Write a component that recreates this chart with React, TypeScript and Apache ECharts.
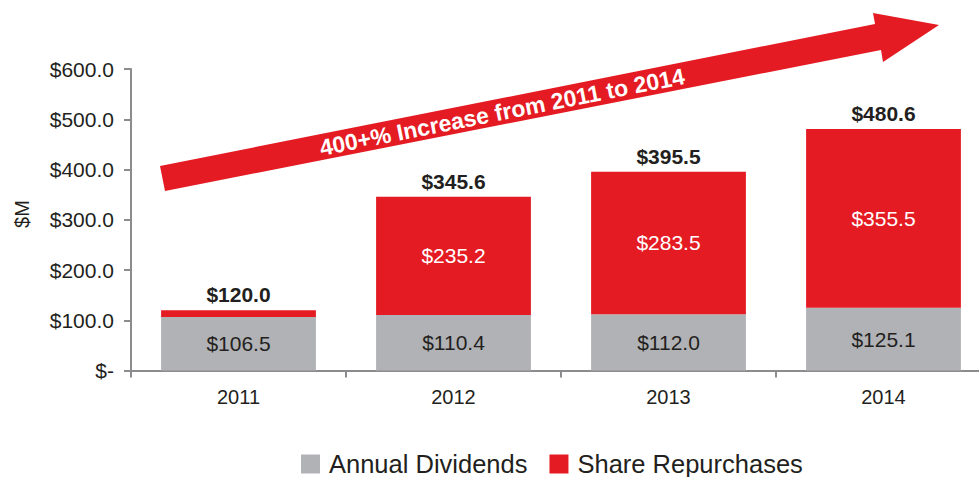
import React, { useEffect, useRef } from "react";
import * as echarts from "echarts";

const categories = ["2011", "2012", "2013", "2014"];
const dividends = [106.5, 110.4, 112.0, 125.1];
const repurchases = [13.5, 235.2, 283.5, 355.5];
const totals = [120.0, 345.6, 395.5, 480.6];
const hiddenRepurchaseLabels = [true, false, false, false];
const yTicks = [0, 100, 200, 300, 400, 500, 600];
const yTickLabels = ["$-", "$100.0", "$200.0", "$300.0", "$400.0", "$500.0", "$600.0"];
const arrowText = "400+% Increase from 2011 to 2014";

const FONT = "'Liberation Sans', Arial, Helvetica, sans-serif";
const GRAY = "#b1b2b5";
const RED = "#e41b23";
const TEXT = "#231f20";
const AXIS = "#8c8c8e";

export default function App() {
  const ref = useRef<HTMLDivElement>(null);
  useEffect(() => {
    if (!ref.current) return;
    const chart = echarts.init(ref.current, null, { renderer: "svg" });
    const fmt = (v: number) => "$" + v.toFixed(1);
    chart.setOption({
      animation: false,
      textStyle: { fontFamily: FONT },
      grid: { left: 131, right: 9, top: 69, bottom: 106.5, containLabel: false },
      legend: {
        data: ["Annual Dividends", "Share Repurchases"],
        left: 296,
        top: 446,
        icon: "rect",
        itemWidth: 19,
        itemHeight: 19,
        itemGap: 22,
        textStyle: { fontSize: 25.5, color: TEXT, fontFamily: FONT, padding: [0, 0, 0, 4] },
        selectedMode: false,
      },
      xAxis: {
        type: "category",
        data: categories,
        axisLine: { lineStyle: { color: AXIS, width: 2 } },
        axisTick: { show: true, length: 7, lineStyle: { color: AXIS, width: 2 } },
        axisLabel: { fontSize: 20, color: TEXT, margin: 16, fontFamily: FONT },
      },
      yAxis: {
        type: "value",
        min: 0,
        max: 600,
        interval: 100,
        splitLine: { show: false },
        axisLine: { show: true, lineStyle: { color: AXIS, width: 2 } },
        axisTick: { show: true, length: 7, lineStyle: { color: AXIS, width: 2 } },
        axisLabel: {
          fontSize: 21,
          color: TEXT,
          margin: 17,
          fontFamily: FONT,
          formatter: (v: number) => yTickLabels[yTicks.indexOf(v)] ?? "",
        },
      },
      graphic: [
        {
          type: "polygon",
          shape: {
            points: [
              [160, 166],
              [875, 24],
              [873, 13],
              [939, 25],
              [883, 62],
              [881, 50],
              [165, 191],
            ],
          },
          style: { fill: RED },
          z: 10,
        },
        {
          type: "text",
          x: 502,
          y: 112,
          rotation: Math.atan2(142, 715),
          style: {
            text: arrowText,
            fill: "#ffffff",
            font: `bold 23px ${FONT}`,
            align: "center",
            verticalAlign: "middle",
          },
          z: 11,
        },
        {
          type: "text",
          x: 22,
          y: 214,
          rotation: Math.PI / 2,
          style: {
            text: "$M",
            fill: TEXT,
            font: `20px ${FONT}`,
            align: "center",
            verticalAlign: "middle",
          },
        },
      ],
      series: [
        {
          name: "Annual Dividends",
          type: "bar",
          stack: "total",
          barWidth: "72%",
          itemStyle: { color: GRAY },
          label: {
            show: true,
            position: "inside",
            fontSize: 21,
            color: TEXT,
            fontFamily: FONT,
            formatter: (p: any) => fmt(p.value),
          },
          data: dividends,
        },
        {
          name: "Share Repurchases",
          type: "bar",
          stack: "total",
          itemStyle: { color: RED },
          label: {
            show: true,
            position: "inside",
            fontSize: 21,
            color: "#ffffff",
            fontFamily: FONT,
            formatter: (p: any) => fmt(p.value),
          },
          data: repurchases.map((v, i) =>
            hiddenRepurchaseLabels[i] ? { value: v, label: { show: false } } : v
          ),
        },
        {
          name: "Total",
          type: "bar",
          stack: "total",
          itemStyle: { color: "transparent" },
          label: {
            show: true,
            position: "top",
            distance: 5,
            fontSize: 21,
            fontWeight: "bold",
            color: TEXT,
            fontFamily: FONT,
            formatter: (p: any) => fmt(totals[p.dataIndex]),
          },
          data: totals.map(() => 0),
        },
      ],
    });
    return () => chart.dispose();
  }, []);
  return (
    <div
      ref={ref}
      style={{ position: "fixed", left: 0, top: 0, width: 1000, height: 477, background: "#fff" }}
    />
  );
}
